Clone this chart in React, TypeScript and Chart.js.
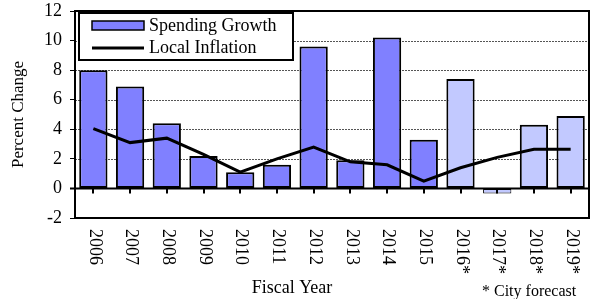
import React, { useEffect, useRef } from 'react';
import { Chart, registerables } from 'chart.js';

Chart.register(...registerables);

const categories = ['2006', '2007', '2008', '2009', '2010', '2011', '2012', '2013', '2014', '2015', '2016*', '2017*', '2018*', '2019*'];
const spendingGrowth = [8.0, 6.9, 4.4, 2.2, 1.1, 1.6, 9.6, 1.9, 10.2, 3.3, 7.4, -0.35, 4.3, 4.9];
const localInflation = [4.05, 3.1, 3.4, 2.3, 1.1, 2.0, 2.8, 1.8, 1.6, 0.5, 1.4, 2.1, 2.65, 2.65];
const isForecast = [false, false, false, false, false, false, false, false, false, false, true, true, true, true];
const yMin = -2;
const yMax = 12;
const yStep = 2;
const seriesNames = ['Spending Growth', 'Local Inflation'];
const axisTitleY = 'Percent Change';
const axisTitleX = 'Fiscal Year';
const footnote = '* City forecast';

const ACTUAL_COLOR = '#8080FF';
const FORECAST_COLOR = '#C2C9FF';
const FONT = "'Liberation Serif', 'Times New Roman', serif";

export default function App() {
  const ref = useRef<HTMLCanvasElement | null>(null);

  useEffect(() => {
    document.body.style.margin = '0';
    const overlay = {
      id: 'overlay',
      beforeDatasetsDraw(chart: any) {
        const { ctx, chartArea } = chart;
        const ys = chart.scales.y;
        ctx.save();
        ctx.strokeStyle = '#555';
        ctx.lineWidth = 1;
        ctx.setLineDash([2, 1]);
        for (let v = yMin + yStep; v < yMax; v += yStep) {
          if (v === 0) continue;
          const y = Math.round(ys.getPixelForValue(v)) + 0.5;
          ctx.beginPath();
          ctx.moveTo(chartArea.left, y);
          ctx.lineTo(chartArea.right, y);
          ctx.stroke();
        }
        ctx.restore();
      },
      afterDatasetsDraw(chart: any) {
        const { ctx, chartArea } = chart;
        const xs = chart.scales.x;
        const ys = chart.scales.y;
        const y0 = ys.getPixelForValue(0);
        ctx.save();
        // zero line
        ctx.strokeStyle = '#000';
        ctx.lineWidth = 2;
        ctx.beginPath();
        ctx.moveTo(chartArea.left - 5, y0);
        ctx.lineTo(chartArea.right, y0);
        ctx.stroke();
        // category tick marks
        ctx.lineWidth = 2;
        categories.forEach((_, i) => {
          const x = Math.round(xs.getPixelForValue(i));
          ctx.beginPath();
          ctx.moveTo(x, y0);
          ctx.lineTo(x, y0 + 5);
          ctx.stroke();
        });
        // frame
        ctx.lineWidth = 2;
        ctx.strokeRect(chartArea.left, chartArea.top, chartArea.right - chartArea.left, chartArea.bottom - chartArea.top);

        // legend
        const lx = chartArea.left + 4;
        const ly = chartArea.top + 2;
        ctx.fillStyle = '#fff';
        ctx.fillRect(lx, ly, 214, 47);
        ctx.strokeStyle = '#000';
        ctx.lineWidth = 2;
        ctx.strokeRect(lx, ly, 214, 47);
        ctx.fillStyle = ACTUAL_COLOR;
        ctx.fillRect(lx + 13, ly + 8, 52, 9);
        ctx.lineWidth = 1.5;
        ctx.strokeRect(lx + 13, ly + 8, 52, 9);
        ctx.lineWidth = 3;
        ctx.beginPath();
        ctx.moveTo(lx + 13, ly + 35);
        ctx.lineTo(lx + 65, ly + 35);
        ctx.stroke();
        ctx.fillStyle = '#000';
        ctx.font = `18px ${FONT}`;
        ctx.textAlign = 'left';
        ctx.textBaseline = 'alphabetic';
        ctx.fillText(seriesNames[0], lx + 70, ly + 18);
        ctx.fillText(seriesNames[1], lx + 70, ly + 40);

        // x labels rotated clockwise
        ctx.font = `18px ${FONT}`;
        ctx.textBaseline = 'middle';
        categories.forEach((lab, i) => {
          const x = xs.getPixelForValue(i);
          ctx.save();
          ctx.translate(x + 1, chartArea.bottom + 11);
          ctx.rotate(Math.PI / 2);
          ctx.textAlign = 'left';
          ctx.fillText(lab, 0, 0);
          ctx.restore();
        });
        // axis title and footnote
        ctx.textBaseline = 'alphabetic';
        ctx.textAlign = 'center';
        ctx.font = `18px ${FONT}`;
        ctx.fillText(axisTitleX, 292, 293);
        ctx.textAlign = 'left';
        ctx.font = `16px ${FONT}`;
        ctx.fillText(footnote, 482, 296);
        ctx.restore();
      },
    };

    const chart = new Chart(ref.current as HTMLCanvasElement, {
      type: 'bar',
      data: {
        labels: categories,
        datasets: [
          {
            type: 'line',
            label: seriesNames[1],
            data: localInflation,
            borderColor: '#000',
            borderWidth: 3,
            pointRadius: 0,
            tension: 0,
            fill: false,
            order: 0,
          } as any,
          {
            type: 'bar',
            label: seriesNames[0],
            data: spendingGrowth,
            backgroundColor: isForecast.map((f) => (f ? FORECAST_COLOR : ACTUAL_COLOR)),
            borderColor: '#000',
            borderWidth: (c: any) => (Math.abs(spendingGrowth[c.dataIndex]) < 1 ? 1 : 2),
            borderSkipped: false,
            barPercentage: 0.77,
            categoryPercentage: 1,
            order: 1,
          },
        ],
      },
      options: {
        animation: false,
        responsive: false,
        devicePixelRatio: 1,
        layout: { padding: { left: 0, top: 11, right: 1, bottom: 81 } },
        plugins: {
          legend: { display: false },
          tooltip: { enabled: false },
          title: { display: false },
        },
        scales: {
          x: { display: false, offset: true },
          y: {
            min: yMin,
            max: yMax,
            ticks: { stepSize: yStep, color: '#000', font: { family: FONT, size: 18 }, padding: 8 },
            grid: { drawOnChartArea: false, drawTicks: true, tickLength: 5, color: '#000', lineWidth: 1 },
            border: { display: false },
            title: {
              display: true,
              text: axisTitleY,
              color: '#000',
              font: { family: FONT, size: 17 },
              padding: { top: 8, bottom: 0 },
            },
            afterFit(scale: any) {
              scale.width = 75;
              scale.paddingTop = 0;
              scale.paddingBottom = 0;
            },
          },
        },
      },
      plugins: [overlay],
    });
    return () => chart.destroy();
  }, []);

  return (
    <div style={{ position: 'fixed', left: 0, top: 0, width: 590, height: 299, background: '#fff' }}>
      <canvas ref={ref} width={590} height={299} style={{ display: 'block' }} />
    </div>
  );
}
